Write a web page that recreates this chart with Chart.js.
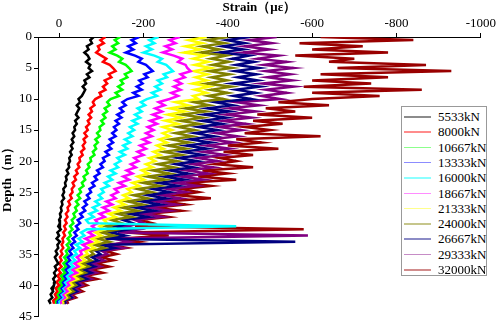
<!DOCTYPE html>
<html>
<head>
<meta charset="utf-8">
<script src="https://cdn.jsdelivr.net/npm/chart.js@4.4.0/dist/chart.umd.min.js"></script>
<style>
  body { margin: 0; background: #fff; }
  #wrap { position: relative; width: 498px; height: 326px; }
  #legend {
    position: absolute; left: 401px; top: 106px; width: 86px; height: 170px;
    border: 1px solid #999; background: #fff; box-sizing: border-box;
    font-family: 'Liberation Serif', 'Times New Roman', serif; font-size: 13px; color: #000;
  }
  .item { position: absolute; left: 0; height: 15px; line-height: 15px; white-space: nowrap; }
  .item span.ln { position: absolute; left: 2px; top: 7px; width: 27px; height: 1.5px; opacity: 0.45; }
  .item span.tx { position: absolute; left: 36px; top: 0; }
</style>
</head>
<body>
<div id="wrap">
  <canvas id="chart" width="498" height="326"></canvas>
  <div id="legend"></div>
</div>
<script>
// depth (m) of each reading
const DEPTHS = [
  0, 0.5, 1, 1.5, 2, 2.5, 3, 3.5, 4, 4.5,
  5, 5.5, 6, 6.5, 7, 7.5, 8, 8.5, 9, 9.5,
  10, 10.5, 11, 11.5, 12, 12.5, 13, 13.5, 14, 14.5,
  15, 15.5, 16, 16.5, 17, 17.5, 18, 18.5, 19, 19.5,
  20, 20.5, 21, 21.5, 22, 22.5, 23, 23.5, 24, 24.5,
  25, 25.5, 26, 26.5, 27, 27.5, 28, 28.5, 29, 29.5,
  30, 30.5, 31, 31.5, 32, 32.5, 33, 33.5, 34, 34.5,
  35, 35.5, 36, 36.5, 37, 37.5, 38, 38.5, 39, 39.5,
  40, 40.5, 41, 41.5, 42, 42.5, 43
];

const LOADS = ["5533kN", "8000kN", "10667kN", "13333kN", "16000kN", "18667kN",
  "21333kN", "24000kN", "26667kN", "29333kN", "32000kN"];
const COLORS = ["#000000", "#ff0000", "#00ff00", "#0000ff", "#00ffff", "#ff00ff",
  "#ffff00", "#808000", "#000080", "#800080", "#990000"];

const X_TICKS = [0, -200, -400, -600, -800, -1000];

// compressive strain (με), sign dropped, one value per depth
const s5533 = [
  82, 74, 78, 66, 70, 60, 68, 72, 64, 74,
  70, 78, 66, 72, 60, 64, 56, 62, 58, 54,
  46, 50, 42, 48, 44, 40, 46, 38, 42, 36,
  38, 32, 36, 30, 34, 28, 32, 26, 30, 24,
  26, 22, 24, 18, 22, 16, 18, 14, 16, 10,
  12, 8, 12, 6, 8, 4, 6, 2, 4, 0,
  2, -2, 4, -4, 0, -6, 2, -4, -2, -8,
  -4, -10, -6, -2, -10, -6, -12, -8, -14, -10,
  -12, -18, -14, -20, -16, -24, -20
];
const s8000 = [
  110, 98, 106, 92, 96, 88, 100, 112, 104, 120,
  128, 134, 118, 124, 108, 114, 104, 110, 96, 100,
  86, 80, 84, 74, 78, 70, 76, 68, 72, 64,
  68, 60, 66, 58, 62, 56, 60, 52, 56, 48,
  50, 44, 48, 40, 44, 36, 40, 32, 36, 30,
  32, 26, 30, 22, 26, 20, 22, 16, 20, 14,
  18, 12, 16, 10, 14, 8, 10, 6, 10, 4,
  8, 2, 6, 0, 6, -2, 4, -4, 2, -6,
  0, -8, -4, -10, -6, -14, -12
];
const s10667 = [
  145, 132, 140, 126, 134, 120, 138, 150, 142, 158,
  166, 172, 156, 162, 146, 152, 140, 150, 134, 142,
  122, 114, 120, 108, 114, 104, 110, 100, 106, 96,
  98, 90, 96, 86, 92, 84, 88, 80, 84, 74,
  76, 68, 72, 64, 68, 58, 62, 54, 58, 48,
  52, 44, 50, 40, 46, 38, 42, 34, 38, 30,
  34, 26, 32, 24, 28, 20, 26, 18, 24, 16,
  20, 12, 18, 10, 16, 8, 14, 4, 10, 2,
  6, -2, 4, -6, 0, -10, -8
];
const s13333 = [
  190, 172, 182, 164, 176, 158, 180, 196, 188, 206,
  214, 222, 202, 210, 190, 198, 184, 196, 176, 188,
  162, 150, 158, 144, 152, 138, 148, 134, 142, 130,
  136, 126, 134, 120, 128, 116, 124, 110, 118, 104,
  108, 98, 104, 90, 96, 84, 90, 78, 84, 72,
  76, 66, 72, 60, 66, 56, 62, 50, 56, 44,
  50, 40, 46, 36, 42, 32, 38, 28, 34, 24,
  30, 20, 26, 16, 24, 14, 20, 10, 16, 6,
  12, 2, 8, -2, 4, -6, -4
];
const s16000 = [
  236, 214, 226, 206, 220, 200, 226, 244, 234, 254,
  262, 270, 248, 256, 234, 244, 228, 240, 220, 232,
  208, 194, 204, 186, 196, 180, 192, 174, 186, 168,
  178, 164, 174, 156, 168, 152, 162, 144, 156, 138,
  146, 132, 140, 122, 134, 116, 126, 108, 118, 100,
  106, 94, 102, 86, 96, 80, 90, 72, 82, 64,
  70, 420, 66, 52, 60, 46, 56, 40, 50, 36,
  42, 30, 38, 26, 34, 22, 30, 16, 24, 12,
  16, 6, 12, 2, 8, -2, 0
];
const s18667 = [
  286, 262, 276, 252, 268, 246, 272, 292, 282, 300,
  304, 312, 288, 298, 276, 290, 272, 288, 266, 282,
  262, 236, 250, 228, 244, 222, 240, 216, 232, 210,
  224, 206, 220, 198, 214, 192, 206, 186, 200, 178,
  188, 170, 182, 160, 174, 152, 166, 142, 156, 132,
  140, 124, 134, 112, 126, 104, 118, 96, 108, 86,
  92, 78, 88, 70, 82, 62, 76, 56, 68, 50,
  54, 42, 50, 36, 46, 30, 42, 24, 34, 18,
  24, 12, 20, 8, 14, 2, 6
];
const s21333 = [
  350, 308, 340, 300, 336, 296, 346, 318, 354, 322,
  360, 320, 352, 324, 350, 316, 356, 322, 350, 318,
  330, 276, 306, 264, 298, 258, 290, 252, 282, 246,
  268, 246, 262, 238, 256, 232, 248, 224, 240, 214,
  228, 206, 222, 196, 212, 186, 202, 174, 190, 162,
  172, 152, 166, 140, 156, 130, 146, 118, 134, 106,
  114, 96, 108, 86, 100, 78, 94, 70, 84, 62,
  68, 52, 62, 44, 58, 38, 52, 32, 44, 24,
  32, 18, 26, 12, 18, 6, 10
];
const s24000 = [
  400, 350, 392, 340, 380, 336, 396, 360, 402, 364,
  410, 356, 404, 362, 398, 350, 408, 360, 400, 354,
  390, 320, 356, 300, 348, 292, 340, 288, 332, 282,
  322, 276, 316, 266, 308, 258, 300, 248, 290, 240,
  280, 234, 272, 222, 262, 210, 252, 198, 238, 186,
  220, 176, 210, 162, 198, 150, 186, 138, 172, 124,
  148, 110, 140, 100, 130, 92, 120, 84, 108, 74,
  82, 64, 76, 54, 70, 46, 62, 38, 54, 30,
  40, 24, 34, 16, 24, 8, 12
];
const s26667 = [
  452, 398, 440, 388, 436, 380, 450, 410, 462, 420,
  474, 418, 468, 424, 470, 412, 476, 420, 466, 414,
  456, 370, 412, 352, 404, 344, 396, 338, 386, 330,
  376, 322, 368, 310, 360, 302, 350, 292, 340, 282,
  328, 276, 318, 262, 306, 250, 296, 236, 282, 222,
  262, 210, 252, 196, 240, 182, 226, 168, 210, 152,
  174, 132, 166, 120, 156, 110, 560, 100, 132, 88,
  98, 78, 92, 66, 84, 58, 76, 48, 66, 38,
  48, 30, 42, 22, 30, 12, 16
];
const s29333 = [
  516, 452, 504, 440, 498, 436, 520, 470, 540, 486,
  556, 490, 548, 494, 552, 482, 556, 490, 540, 480,
  524, 420, 474, 404, 466, 396, 456, 386, 444, 378,
  432, 372, 424, 360, 414, 350, 404, 340, 392, 328,
  376, 316, 366, 302, 354, 290, 342, 276, 326, 258,
  300, 242, 288, 226, 276, 212, 262, 196, 244, 180,
  200, 154, 190, 140, 590, 128, 166, 116, 152, 102,
  114, 90, 106, 78, 98, 68, 88, 56, 76, 44,
  56, 36, 48, 26, 34, 14, 18
];
const s32000 = [
  620, 840, 570, 720, 600, 780, 560, 700, 640, 870,
  660, 930, 620, 780, 600, 740, 580, 860, 600, 760,
  600, 520, 640, 490, 560, 470, 600, 460, 530, 440,
  500, 440, 620, 420, 480, 400, 520, 390, 460, 380,
  420, 370, 460, 340, 400, 330, 420, 300, 360, 290,
  330, 280, 360, 250, 300, 230, 290, 210, 260, 190,
  220, 180, 580, 160, 260, 140, 190, 120, 160, 110,
  136, 100, 128, 86, 118, 74, 104, 62, 90, 50,
  66, 42, 56, 30, 40, 18, 22
];

const SERIES = [s5533, s8000, s10667, s13333, s16000, s18667,
  s21333, s24000, s26667, s29333, s32000];

const serif = "'Liberation Serif', 'Times New Roman', serif";

const datasets = SERIES.map((s, i) => ({
  label: LOADS[i],
  data: DEPTHS.map((d, j) => ({ x: -s[j], y: d })),
  showLine: true,
  borderColor: COLORS[i],
  backgroundColor: COLORS[i],
  borderWidth: 2.5,
  pointRadius: 0,
  tension: 0
}));

new Chart(document.getElementById("chart"), {
  type: "scatter",
  data: { datasets: datasets },
  options: {
    responsive: false,
    animation: false,
    devicePixelRatio: 1,
    layout: { padding: { left: 0, right: 16, top: 0, bottom: 8 } },
    plugins: {
      legend: { display: false },
      tooltip: { enabled: false }
    },
    scales: {
      x: {
        type: "linear",
        position: "top",
        min: -1000,
        max: 50,
        reverse: true,
        afterBuildTicks: (axis) => { axis.ticks = X_TICKS.map(v => ({ value: v })); },
        afterFit: (axis) => { axis.height = 37; },
        ticks: { color: "#000", font: { family: serif, size: 13 }, padding: 2, maxRotation: 0,
          callback: (v) => String(v) },
        grid: { drawOnChartArea: false, drawTicks: true, tickLength: 4, color: "#000" },
        border: { color: "#000", width: 1 },
        title: { display: true, text: "Strain（με）", color: "#000",
          font: { family: serif, size: 13, weight: "bold" }, padding: { top: 0, bottom: 0 } }
      },
      y: {
        type: "linear",
        min: 0,
        max: 45,
        reverse: true,
        afterFit: (axis) => { axis.width = 38; },
        ticks: { stepSize: 5, color: "#000", font: { family: serif, size: 13 }, padding: 2 },
        grid: { drawOnChartArea: false, drawTicks: true, tickLength: 4, color: "#000" },
        border: { color: "#000", width: 1 },
        title: { display: true, text: "Depth（m）", color: "#000",
          font: { family: serif, size: 13, weight: "bold" }, padding: { top: 0, bottom: 0 } }
      }
    }
  }
});

// legend box inside the plot
const legendEl = document.getElementById("legend");
LOADS.forEach((name, i) => {
  const item = document.createElement("div");
  item.className = "item";
  item.style.top = (2 + i * 15.3) + "px";
  item.innerHTML = `<span class="ln" style="background:${COLORS[i]}"></span><span class="tx">${name}</span>`;
  legendEl.appendChild(item);
});
</script>
</body>
</html>
